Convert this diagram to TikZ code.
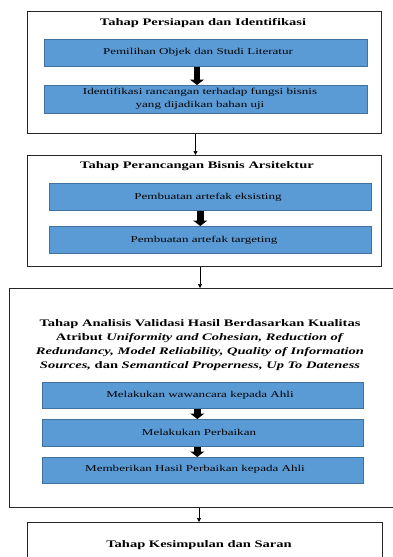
\documentclass[tikz,border=0pt]{standalone}
\usepackage{fontspec}
\setmainfont[FakeStretch=1.45]{Liberation Serif}
\usetikzlibrary{arrows.meta}
\definecolor{bluef}{HTML}{5B9BD5}
\definecolor{bluebd}{HTML}{41719C}
\begin{document}
\begin{tikzpicture}[x=1pt,y=-1pt,
 outer/.style={draw=black!85, line width=0.9pt, anchor=north west, inner sep=0},
 bluebox/.style={draw=bluebd, fill=bluef, line width=0.6pt, anchor=north west, inner sep=0},
 ttl/.style={font=\fontsize{10}{12}\selectfont\bfseries, align=center, inner sep=0},
 btxt/.style={font=\fontsize{9}{12.5}\selectfont, align=center, inner sep=0},
 fat/.style={line width=6.5pt, -{Triangle[width=14pt,length=5.5pt]}},
 thin/.style={line width=0.7pt, -{Triangle[width=4pt,length=4pt]}}]
\useasboundingbox (0,0) rectangle (393,557);
\coordinate (c1) at (195.5,0);
\coordinate (c2) at (200,0);
\coordinate (c3) at (199,0);
% box 1
\node[outer, minimum width=354pt, minimum height=122pt] (O1) at (27,11) {};
\node[ttl] (T1) at (203,23) {Tahap Persiapan dan Identifikasi};
\node[bluebox, minimum width=323pt, minimum height=27pt] (B1) at (44,39) {};
\node[btxt] (L1) at (198,52) {Pemilihan Objek dan Studi Literatur};
\node[bluebox, minimum width=323pt, minimum height=28pt] (B2) at (44,85) {};
\node[btxt] (L2) at (200,99) {Identifikasi rancangan terhadap fungsi bisnis\\yang dijadikan bahan uji};
\draw[fat] ([xshift=-8.8pt]B1.south) -- ([xshift=-8.8pt]B2.north);
% box 2
\node[outer, minimum width=354pt, minimum height=111pt] (O2) at (27,155) {};
\node[ttl] (T2) at (197,166) {Tahap Perancangan Bisnis Arsitektur};
\node[bluebox, minimum width=322pt, minimum height=27pt] (B3) at (49,183) {};
\node[btxt] (L3) at (208,197) {Pembuatan artefak eksisting};
\node[bluebox, minimum width=322pt, minimum height=27pt] (B4) at (49,226) {};
\node[btxt] (L4) at (204,240) {Pembuatan artefak targeting};
\draw[fat] ([xshift=-10pt]B3.south) -- ([xshift=-10pt]B4.north);
\draw[thin] (O1.south -| c1) -- (O2.north -| c1);
% box 3
\node[outer, minimum width=386pt, minimum height=219pt] (O3) at (9,288) {};
\node[ttl, font=\fontsize{10}{14}\selectfont\bfseries] (T3) at (200,345) {Tahap Analisis Validasi Hasil Berdasarkan Kualitas\\
Atribut \textit{Uniformity and Cohesian, Reduction of}\\
\textit{Redundancy, Model Reliability, Quality of Information}\\
\textit{Sources,} dan \textit{Semantical Properness, Up To Dateness}};
\node[bluebox, minimum width=321pt, minimum height=26pt] (B5) at (42,382) {};
\node[btxt] (L5) at (200,395) {Melakukan wawancara kepada Ahli};
\node[bluebox, minimum width=321pt, minimum height=27pt] (B6) at (42,419) {};
\node[btxt] (L6) at (199,432) {Melakukan Perbaikan};
\node[bluebox, minimum width=321pt, minimum height=26pt] (B7) at (42,457) {};
\node[btxt] (L7) at (195,469) {Memberikan Hasil Perbaikan kepada Ahli};
\draw[fat] ([xshift=-5.5pt]B5.south) -- ([xshift=-5.5pt]B6.north);
\draw[fat] ([xshift=-5.5pt]B6.south) -- ([xshift=-5.5pt]B7.north);
\draw[thin] (O2.south -| c2) -- (O3.north -| c2);
% box 4
\node[outer, minimum width=355pt, minimum height=60pt] (O4) at (27,522) {};
\node[ttl] (T4) at (199,545) {Tahap Kesimpulan dan Saran};
\draw[thin] (O3.south -| c3) -- (O4.north -| c3);
\end{tikzpicture}
\end{document}
